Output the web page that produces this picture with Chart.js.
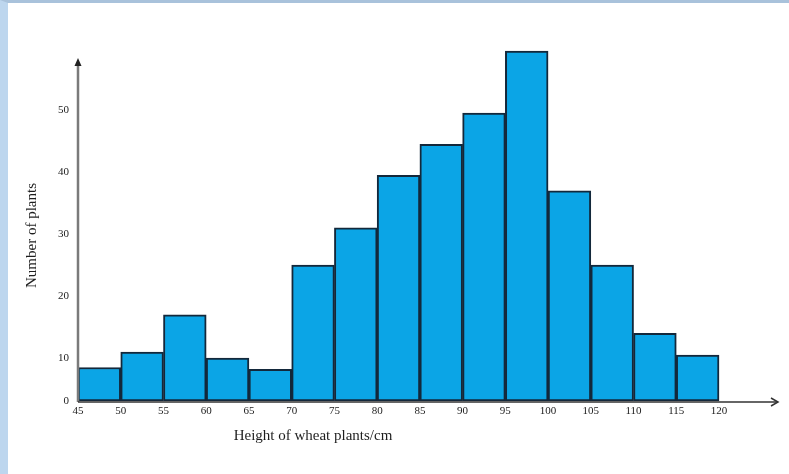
<!DOCTYPE html>
<html>
<head>
<meta charset="utf-8">
<script src="https://cdn.jsdelivr.net/npm/chart.js@4"></script>
<style>
  html, body { margin: 0; padding: 0; background: #fff; }
  #frame {
    width: 781px; height: 471px;
    border-left: 8px solid #bdd6ee;
    border-top: 3px solid #a9c2db;
    background: #fff;
  }
</style>
</head>
<body>
<div id="frame"><canvas id="hist"></canvas></div>
<script>
/* ── Data ─────────────────────────────────────────────────── */
const binStarts = [45, 50, 55, 60, 65, 70, 75, 80, 85, 90, 95, 100, 105, 110, 115];
const binWidth  = 5;
const counts    = [8.5, 11, 17, 10, 8.2, 25, 31, 39.5, 44.5, 49.5, 59.5, 37, 25, 14, 10.5];

const xTicks      = [45, 50, 55, 60, 65, 70, 75, 80, 85, 90, 95, 100, 105, 110, 115, 120];
const yTickValues = [3.1, 10, 20, 30, 40, 50];   // bottom of the drawn axis is labelled 0
const yTickLabels = ['0', '10', '20', '30', '40', '50'];
const yBottom = yTickValues[0];

const xTitle = 'Height of wheat plants/cm';
const yTitle = 'Number of plants';

/* ── Axis lines, arrows and titles ─────────────────────────── */
const axisDecor = {
  id: 'axisDecor',
  afterDatasetsDraw(chart) {
    const { ctx, chartArea: a } = chart;
    ctx.save();
    // y axis: thicker grey line, small solid head
    ctx.strokeStyle = '#7a7a7a';
    ctx.fillStyle = '#222';
    ctx.lineWidth = 2.5;
    ctx.beginPath();
    ctx.moveTo(a.left, a.bottom + 1);
    ctx.lineTo(a.left, a.top + 4);
    ctx.stroke();
    ctx.beginPath();
    ctx.moveTo(a.left, a.top);
    ctx.lineTo(a.left - 3.5, a.top + 8);
    ctx.lineTo(a.left + 3.5, a.top + 8);
    ctx.closePath();
    ctx.fill();
    // x axis: darker thin line, open arrow head
    ctx.strokeStyle = '#333';
    ctx.lineWidth = 1.5;
    ctx.beginPath();
    ctx.moveTo(a.left, a.bottom + 1);
    ctx.lineTo(a.right, a.bottom + 1);
    ctx.stroke();
    ctx.beginPath();
    ctx.moveTo(a.right - 7, a.bottom - 3);
    ctx.lineTo(a.right, a.bottom + 1);
    ctx.lineTo(a.right - 7, a.bottom + 5);
    ctx.stroke();

    // titles
    ctx.fillStyle = '#1e1e1e';
    ctx.font = '15px "Liberation Serif", "DejaVu Serif", serif';
    ctx.textAlign = 'center';
    ctx.textBaseline = 'middle';
    ctx.fillText(xTitle, a.left + 235, a.bottom + 35);
    ctx.translate(a.left - 46, (a.top + a.bottom) / 2 + 6);
    ctx.rotate(-Math.PI / 2);
    ctx.fillText(yTitle, 0, 0);
    ctx.restore();
  }
};

/* ── Chart ─────────────────────────────────────────────────── */
const tickFont = { family: '"Liberation Serif", "DejaVu Serif", serif', size: 11 };

new Chart(document.getElementById('hist').getContext('2d'), {
  type: 'bar',
  data: {
    datasets: [{
      data: binStarts.map((s, i) => ({ x: s + binWidth / 2, y: counts[i] })),
      base: yBottom,
      backgroundColor: '#0ba5e6',
      borderColor: '#13283b',
      borderWidth: 2,
      borderSkipped: false,
      barPercentage: 1,
      categoryPercentage: 1,
      clip: false
    }]
  },
  options: {
    responsive: true,
    maintainAspectRatio: false,
    animation: false,
    layout: { padding: { top: 55, left: 0, right: 11, bottom: 0 } },
    plugins: { legend: { display: false }, tooltip: { enabled: false } },
    scales: {
      x: {
        type: 'linear',
        min: 45,
        max: 126.9,
        offset: false,
        grid: { display: false, drawTicks: false, offset: false },
        border: { display: false },
        afterBuildTicks: s => { s.ticks = xTicks.map(v => ({ value: v })); },
        afterFit: s => { s.height = 73; },
        ticks: { color: '#222', font: tickFont, padding: 4, maxRotation: 0, autoSkip: false }
      },
      y: {
        type: 'linear',
        min: yBottom,
        max: 58.4,
        grid: { display: false, drawTicks: false },
        border: { display: false },
        afterBuildTicks: s => { s.ticks = yTickValues.map(v => ({ value: v })); },
        afterFit: s => { s.width = 70; },
        ticks: {
          color: '#222', font: tickFont, padding: 9,
          callback: (v, i) => yTickLabels[i]
        }
      }
    }
  },
  plugins: [axisDecor]
});
</script>
</body>
</html>
